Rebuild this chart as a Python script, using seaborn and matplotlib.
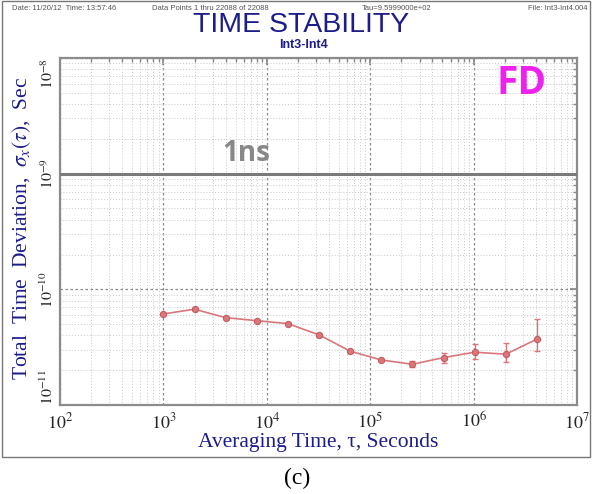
import numpy as np
import pandas as pd
import matplotlib
matplotlib.use("Agg")
import matplotlib.pyplot as plt
import seaborn as sns
from matplotlib.ticker import LogLocator, NullFormatter
from matplotlib.patches import Rectangle

# ---- data ----
tau = [1e3, 2e3, 4e3, 8e3, 1.6e4, 3.2e4, 6.4e4, 1.28e5, 2.56e5, 5.12e5, 1.024e6, 2.048e6, 4.096e6]
tdev = [6.13e-11, 6.73e-11, 5.69e-11, 5.36e-11, 5.05e-11, 4.04e-11, 2.92e-11, 2.45e-11,
        2.25e-11, 2.57e-11, 2.86e-11, 2.75e-11, 3.71e-11]
err_lo = [6.00e-11, 6.60e-11, 5.58e-11, 5.26e-11, 4.95e-11, 3.95e-11, 2.84e-11, 2.38e-11,
          2.12e-11, 2.32e-11, 2.49e-11, 2.34e-11, 2.95e-11]
err_hi = [6.26e-11, 6.86e-11, 5.80e-11, 5.46e-11, 5.15e-11, 4.13e-11, 3.00e-11, 2.52e-11,
          2.40e-11, 2.80e-11, 3.35e-11, 3.46e-11, 5.51e-11]
ref_level = 1e-9
x_ticks = [1e2, 1e3, 1e4, 1e5, 1e6, 1e7]
x_ticklabels = [r"$10^{2}$", r"$10^{3}$", r"$10^{4}$", r"$10^{5}$", r"$10^{6}$", r"$10^{7}$"]
y_ticks = [1e-11, 1e-10, 1e-9, 1e-8]
y_ticklabels = [r"$10^{-11}$", r"$10^{-10}$", r"$10^{-9}$", r"$10^{-8}$"]

df = pd.DataFrame({"tau": tau, "tdev": tdev})

sns.set_theme(style="white")
plt.rcParams["mathtext.fontset"] = "stix"
plt.rcParams["font.family"] = ["Liberation Serif", "DejaVu Serif"]

navy = "#1c1c8a"
line_c = "#d9777a"

fig = plt.figure(figsize=(5.95, 4.94), dpi=100)
ax = fig.add_axes([60 / 595, 1 - 405 / 494, 517 / 595, 347 / 494])

# outer frame of the plot image
fig.patches.append(Rectangle((2 / 595, 1 - 457 / 494), 588 / 595, 456 / 494,
                             transform=fig.transFigure, fill=False,
                             edgecolor="#777777", linewidth=1.0, zorder=0))

ax.set_xscale("log")
ax.set_yscale("log")
ax.set_xlim(1e2, 1e7)
ax.set_ylim(1e-11, 1e-8)

# grids
ax.xaxis.set_minor_locator(LogLocator(base=10, subs=np.arange(2, 10), numticks=20))
ax.yaxis.set_minor_locator(LogLocator(base=10, subs=np.arange(2, 10), numticks=20))
ax.xaxis.set_minor_formatter(NullFormatter())
ax.yaxis.set_minor_formatter(NullFormatter())
ax.grid(True, which="major", color="#8a8a8a", linestyle=(0, (2, 2)), linewidth=0.9)
ax.grid(True, which="minor", color="#c8c8c8", linestyle=(0, (1, 2)), linewidth=0.7)
ax.set_axisbelow(True)

ax.axhline(ref_level, color="#7a7a7a", linewidth=2.2, zorder=3)

ax.errorbar(tau, tdev,
            yerr=[np.array(tdev) - np.array(err_lo), np.array(err_hi) - np.array(tdev)],
            fmt="none", ecolor=line_c, elinewidth=1.0, capsize=2, capthick=1.0, zorder=4)
sns.lineplot(data=df, x="tau", y="tdev", ax=ax, color=line_c, linewidth=1.2,
             marker="o", markersize=4.5, markerfacecolor=line_c,
             markeredgecolor="#c25a5e", zorder=5)

ax.set_xticks(x_ticks)
ax.set_xticklabels(x_ticklabels, fontsize=13)
ax.set_yticks(y_ticks)
ax.set_yticklabels(y_ticklabels, fontsize=11.5, rotation=90)
for lbl, va in zip(ax.get_yticklabels(), ["bottom", "center", "center", "top"]):
    lbl.set_va(va)
ax.tick_params(axis="both", which="both", direction="in", top=True, right=True,
               color="#888888")
ax.tick_params(axis="both", which="major", length=5)
ax.tick_params(axis="x", which="major", pad=5)
ax.tick_params(axis="y", which="major", pad=2)
ax.tick_params(axis="both", which="minor", length=3)

for s in ax.spines.values():
    s.set_color("#8c8c8c")
    s.set_linewidth(1.6)

ax.set_xlabel("Averaging Time, τ, Seconds", fontsize=15.5, color=navy, labelpad=1)
ax.set_ylabel(r"Total  Time  Deviation,  $\sigma_x(\tau)$,  Sec", fontsize=15.5,
              color=navy)
ax.yaxis.set_label_coords(-0.052, 0.51)

ax.text((222 - 60) / 517, (405 - 168) / 347, "1ns", transform=ax.transAxes,
        fontsize=20, fontweight="bold", color="#888888",
        family=["Open Sans", "DejaVu Sans"], ha="left", va="bottom")
ax.text((547 - 60) / 517, (405 - 64) / 347, "FD", transform=ax.transAxes, fontsize=28,
        fontweight="bold", color="#ee22ee", family=["Open Sans", "DejaVu Sans"],
        ha="right", va="top")

# header texts
sans = ["Liberation Sans", "DejaVu Sans"]
fig.text(12 / 595, 1 - 8 / 494, "Date: 11/20/12  Time: 13:57:46", fontsize=5.5,
         family=sans, color="#555555", va="center")
fig.text(152 / 595, 1 - 8 / 494, "Data Points 1 thru 22088 of 22088", fontsize=5.5,
         family=sans, color="#555555", va="center")
fig.text(362 / 595, 1 - 8 / 494, "Tau=9.5999000e+02", fontsize=5.5,
         family=sans, color="#555555", va="center")
fig.text(588 / 595, 1 - 8 / 494, "File: Int3-Int4.004", fontsize=5.5,
         family=sans, color="#555555", va="center", ha="right")
fig.text(301 / 595, 1 - 25 / 494, "TIME STABILITY", fontsize=20.5, family=sans,
         color=navy, ha="center", va="center")
fig.text(303 / 595, 1 - 45 / 494, "Int3-Int4", fontsize=9, family=sans,
         fontweight="bold", color=navy, ha="center", va="center")
fig.text(297 / 595, 1 - 478 / 494, "(c)", fontsize=17, color="black",
         ha="center", va="center")

fig.savefig("out.png", dpi=100)
